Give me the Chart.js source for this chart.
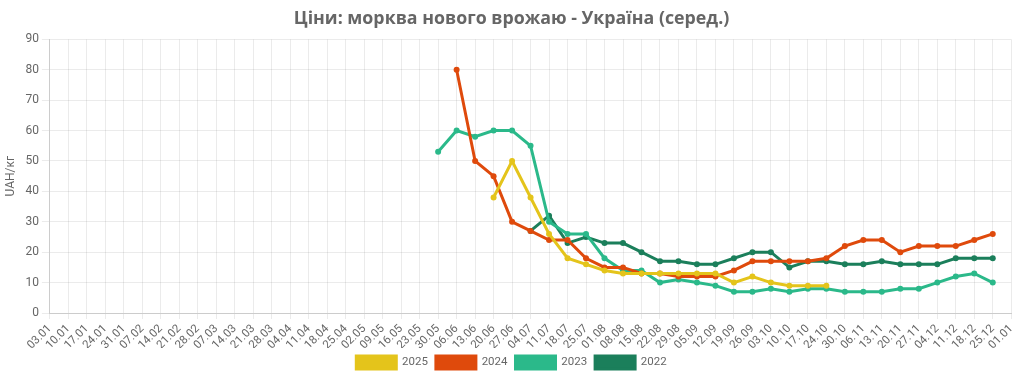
<!DOCTYPE html>
<html>
<head>
<meta charset="utf-8">
<script src="https://cdn.jsdelivr.net/npm/chart.js@4/dist/chart.umd.min.js"></script>
<style>
  html, body { margin: 0; padding: 0; background: #fff; }
  #wrap { width: 1024px; height: 379px; }
</style>
</head>
<body>
<div id="wrap"><canvas id="chart"></canvas></div>
<script>
const weeks = ['03.01','10.01','17.01','24.01','31.01','07.02','14.02','21.02','28.02','07.03','14.03','21.03','28.03',
    '04.04','11.04','18.04','25.04','02.05','09.05','16.05','23.05','30.05','06.06','13.06','20.06','27.06',
    '04.07','11.07','18.07','25.07','01.08','08.08','15.08','22.08','29.08','05.09','12.09','19.09','26.09',
    '03.10','10.10','17.10','24.10','30.10','06.11','13.11','20.11','27.11','04.12','11.12','18.12','25.12','01.01'];

// values start at the week where each season begins
const start2025 = 24;
const prices2025 = [38, 50, 38, 26, 18, 16, 14, 13, 13, 13, 13, 13, 13, 10, 12, 10, 9, 9, 9];
const start2024 = 22;
const prices2024 = [80, 50, 45, 30, 27, 24, 24, 18, 15, 15, 13, 13, 12, 12, 12, 14, 17, 17, 17, 17, 18, 22, 24, 24, 20, 22, 22, 22, 24, 26];
const start2023 = 21;
const prices2023 = [53, 60, 58, 60, 60, 55, 30, 26, 26, 18, 14, 14, 10, 11, 10, 9, 7, 7, 8, 7, 8, 8, 7, 7, 7, 8, 8, 10, 12, 13, 10];
const start2022 = 26;
const prices2022 = [27, 32, 23, 25, 23, 23, 20, 17, 17, 16, 16, 18, 20, 20, 15, 17, 17, 16, 16, 17, 16, 16, 16, 18, 18, 18];

function pad(start, values) {
    const out = new Array(weeks.length).fill(null);
    values.forEach((v, i) => { out[start + i] = v; });
    return out;
}

function series(label, color, data) {
    return {
        label: label,
        data: data,
        borderColor: color,
        backgroundColor: color,
        pointBackgroundColor: color,
        pointBorderColor: color,
        borderWidth: 3,
        pointRadius: 3,
        pointBorderWidth: 0,
        pointHoverRadius: 4,
        tension: 0,
        spanGaps: false
    };
}

Chart.defaults.font.family = 'Roboto, sans-serif';
Chart.defaults.color = '#666';

new Chart(document.getElementById('chart'), {
    type: 'line',
    data: {
        labels: weeks,
        datasets: [
            series('2025', '#e4c41b', pad(start2025, prices2025)),
            series('2024', '#df4a0c', pad(start2024, prices2024)),
            series('2023', '#2bb98a', pad(start2023, prices2023)),
            series('2022', '#1b7f5b', pad(start2022, prices2022))
        ]
    },
    options: {
        responsive: true,
        maintainAspectRatio: false,
        animation: false,
        layout: { padding: { left: 0, right: 1, top: 0, bottom: 0 } },
        plugins: {
            title: {
                display: true,
                text: 'Ціни: морква нового врожаю - Україна (серед.)',
                font: { family: '"Open Sans", sans-serif', size: 17.8, weight: 'bold' },
                color: '#666',
                padding: { top: 8, bottom: 10 }
            },
            legend: {
                position: 'bottom',
                labels: { boxWidth: 40, boxHeight: 13, font: { size: 11.5 }, padding: 8 }
            },
            tooltip: { enabled: false }
        },
        scales: {
            x: {
                grid: { color: 'rgba(0,0,0,0.08)', tickLength: 6 },
                border: { color: '#ccc' },
                ticks: { autoSkip: false, minRotation: 45, maxRotation: 45, font: { size: 11.5 } },
                afterFit: (scale) => { scale.height = 35; }
            },
            y: {
                min: 0,
                max: 90,
                grid: { color: 'rgba(0,0,0,0.08)' },
                border: { color: '#ccc' },
                ticks: { stepSize: 10, font: { size: 12 } },
                title: { display: true, text: 'UAH/кг', font: { size: 12 } }
            }
        }
    }
});
</script>
</body>
</html>
